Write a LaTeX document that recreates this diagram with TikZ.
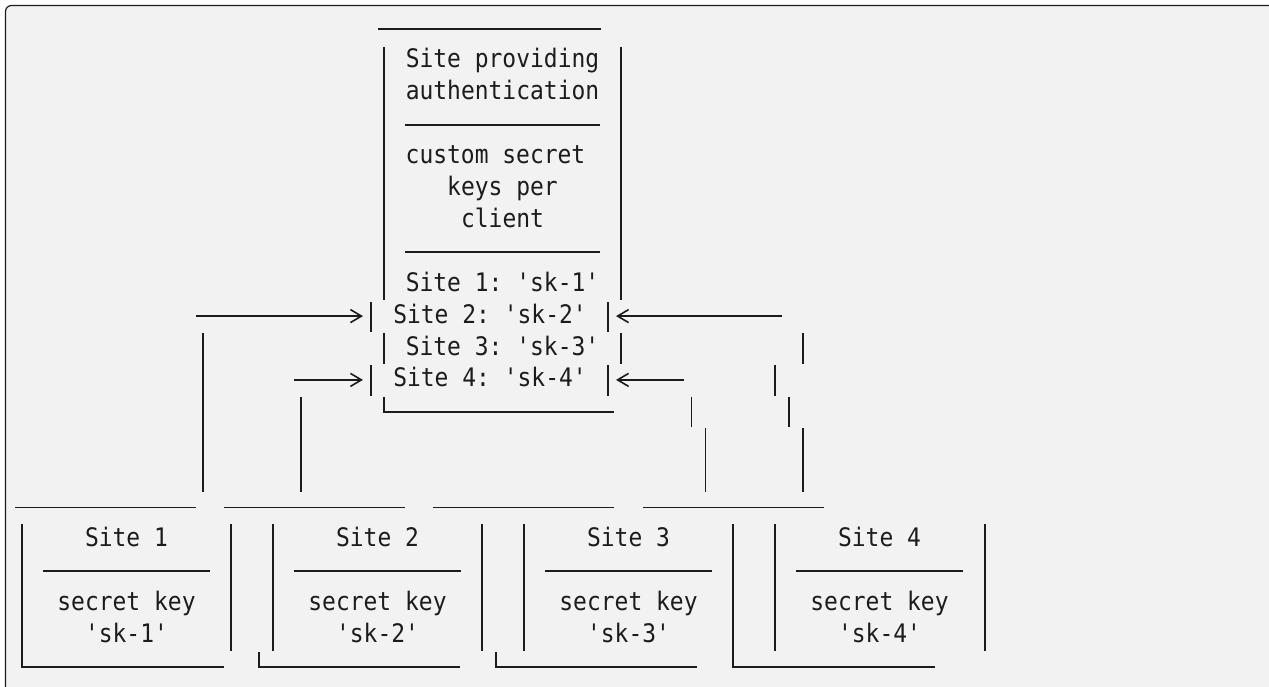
\documentclass[tikz,border=0pt]{standalone}
\usepackage{fontspec}
\setmonofont[FakeStretch=0.9]{DejaVu Sans Mono}
\usetikzlibrary{arrows.meta}
\definecolor{codebg}{HTML}{F2F2F2}
\definecolor{ink}{HTML}{1C1C1C}
\tikzset{
  txt/.style={font=\ttfamily\fontsize{25.5}{30}\selectfont, text=ink, inner sep=0pt, text height=19pt, text depth=5pt},
  rule/.style={draw=ink, line width=1.8pt},
  feed/.style={rule, -{Straight Barb[length=11pt,width=13pt,line width=1.6pt]}},
}
\begin{document}
\begin{tikzpicture}[x=1pt,y=-1pt]
  \useasboundingbox (0,0) rectangle (1269,687);
  \fill[white] (0,0) rectangle (1269,687);
  \draw[draw=ink, line width=1.2pt, fill=codebg, rounded corners=6pt] (5.5,5.5) rectangle (1276,700);
  % Auth site box.
  \draw[rule] (378,29) -- (601,29);
  \draw[rule] (384,47) -- (384,300);
  \draw[rule] (621,47) -- (621,300);
  \node[txt] (title1) at (502.5,60.9) {Site providing};
  \node[txt] (title2) at (502.5,92.8) {authentication};
  \draw[rule] (405,124.7) -- (600,124.7);
  \node[txt] (cs1) at (495.5,156.6) {custom secret};
  \node[txt] (cs2) at (502.5,188.5) {keys per};
  \node[txt] (cs3) at (502.5,220.4) {client};
  \draw[rule] (405,252.3) -- (600,252.3);
  \node[txt] (k1) at (502.5,284.2) {Site 1: 'sk-1'};
  \node[txt] (k2) at (490,316.1) {Site 2: 'sk-2'};
  \node[txt] (k3) at (502.5,348) {Site 3: 'sk-3'};
  \node[txt] (k4) at (490,379.9) {Site 4: 'sk-4'};
  \draw[rule] (371,302) -- (371,332);
  \draw[rule] (608,302) -- (608,332);
  \draw[rule] (384,333) -- (384,364);
  \draw[rule] (621,333) -- (621,364);
  \draw[rule] (371,365) -- (371,396);
  \draw[rule] (608,365) -- (608,396);
  \draw[rule] (384,397) -- (384,412) -- (614,412);
  % Client boxes.
  \draw[rule] (15,507.5) -- (196,507.5);
  \draw[rule] (224,507.5) -- (405,507.5);
  \draw[rule] (433,507.5) -- (614,507.5);
  \draw[rule] (643,507.5) -- (824,507.5);
  \node[txt] (s1) at (126.5,539.4) {Site 1};
  \node[txt] (s2) at (377.5,539.4) {Site 2};
  \node[txt] (s3) at (628.5,539.4) {Site 3};
  \node[txt] (s4) at (879.5,539.4) {Site 4};
  \draw[rule] (43,571.3) -- (210,571.3);
  \draw[rule] (294,571.3) -- (461,571.3);
  \draw[rule] (545,571.3) -- (712,571.3);
  \draw[rule] (796,571.3) -- (963,571.3);
  \node[txt] (sec1) at (126.5,603.2) {secret key};
  \node[txt] (sec2) at (377.5,603.2) {secret key};
  \node[txt] (sec3) at (628.5,603.2) {secret key};
  \node[txt] (sec4) at (879.5,603.2) {secret key};
  \node[txt] (sk1) at (126.5,635.1) {'sk-1'};
  \node[txt] (sk2) at (377.5,635.1) {'sk-2'};
  \node[txt] (sk3) at (628.5,635.1) {'sk-3'};
  \node[txt] (sk4) at (879.5,635.1) {'sk-4'};
  \draw[rule] (21.6,524.4) -- (21.6,667) -- (224,667);
  \draw[rule] (231,524.4) -- (231,651);
  \draw[rule] (273,524.4) -- (273,651);
  \draw[rule] (482,524.4) -- (482,651);
  \draw[rule] (259,652) -- (259,667) -- (460,667);
  \draw[rule] (524,524.4) -- (524,651);
  \draw[rule] (733,524.4) -- (733,667) -- (935,667);
  \draw[rule] (496,652) -- (496,667) -- (697,667);
  \draw[rule] (775,524.4) -- (775,651);
  \draw[rule] (985,524.4) -- (985,651);
  % Left links.
  \coordinate (in2) at (363,316.1);
  \coordinate (in4) at (363,379.9);
  \draw[feed] (196,316.1) -- (in2);
  \draw[rule] (203,333) -- (203,492);
  \draw[feed] (294,379.9) -- (in4);
  \draw[rule] (301,397) -- (301,492);
  % Right links.
  \coordinate (out2) at (616,316.1);
  \coordinate (out4) at (616,379.9);
  \draw[feed] (782,316.1) -- (out2);
  \draw[rule] (803,333) -- (803,364);
  \draw[rule] (775,365) -- (775,396);
  \draw[rule] (789,397) -- (789,427);
  \draw[rule] (803,428) -- (803,492);
  \draw[feed] (684,379.9) -- (out4);
  \draw[rule] (691.5,397) -- (691.5,427);
  \draw[rule] (705.5,428) -- (705.5,492);
\end{tikzpicture}
\end{document}
